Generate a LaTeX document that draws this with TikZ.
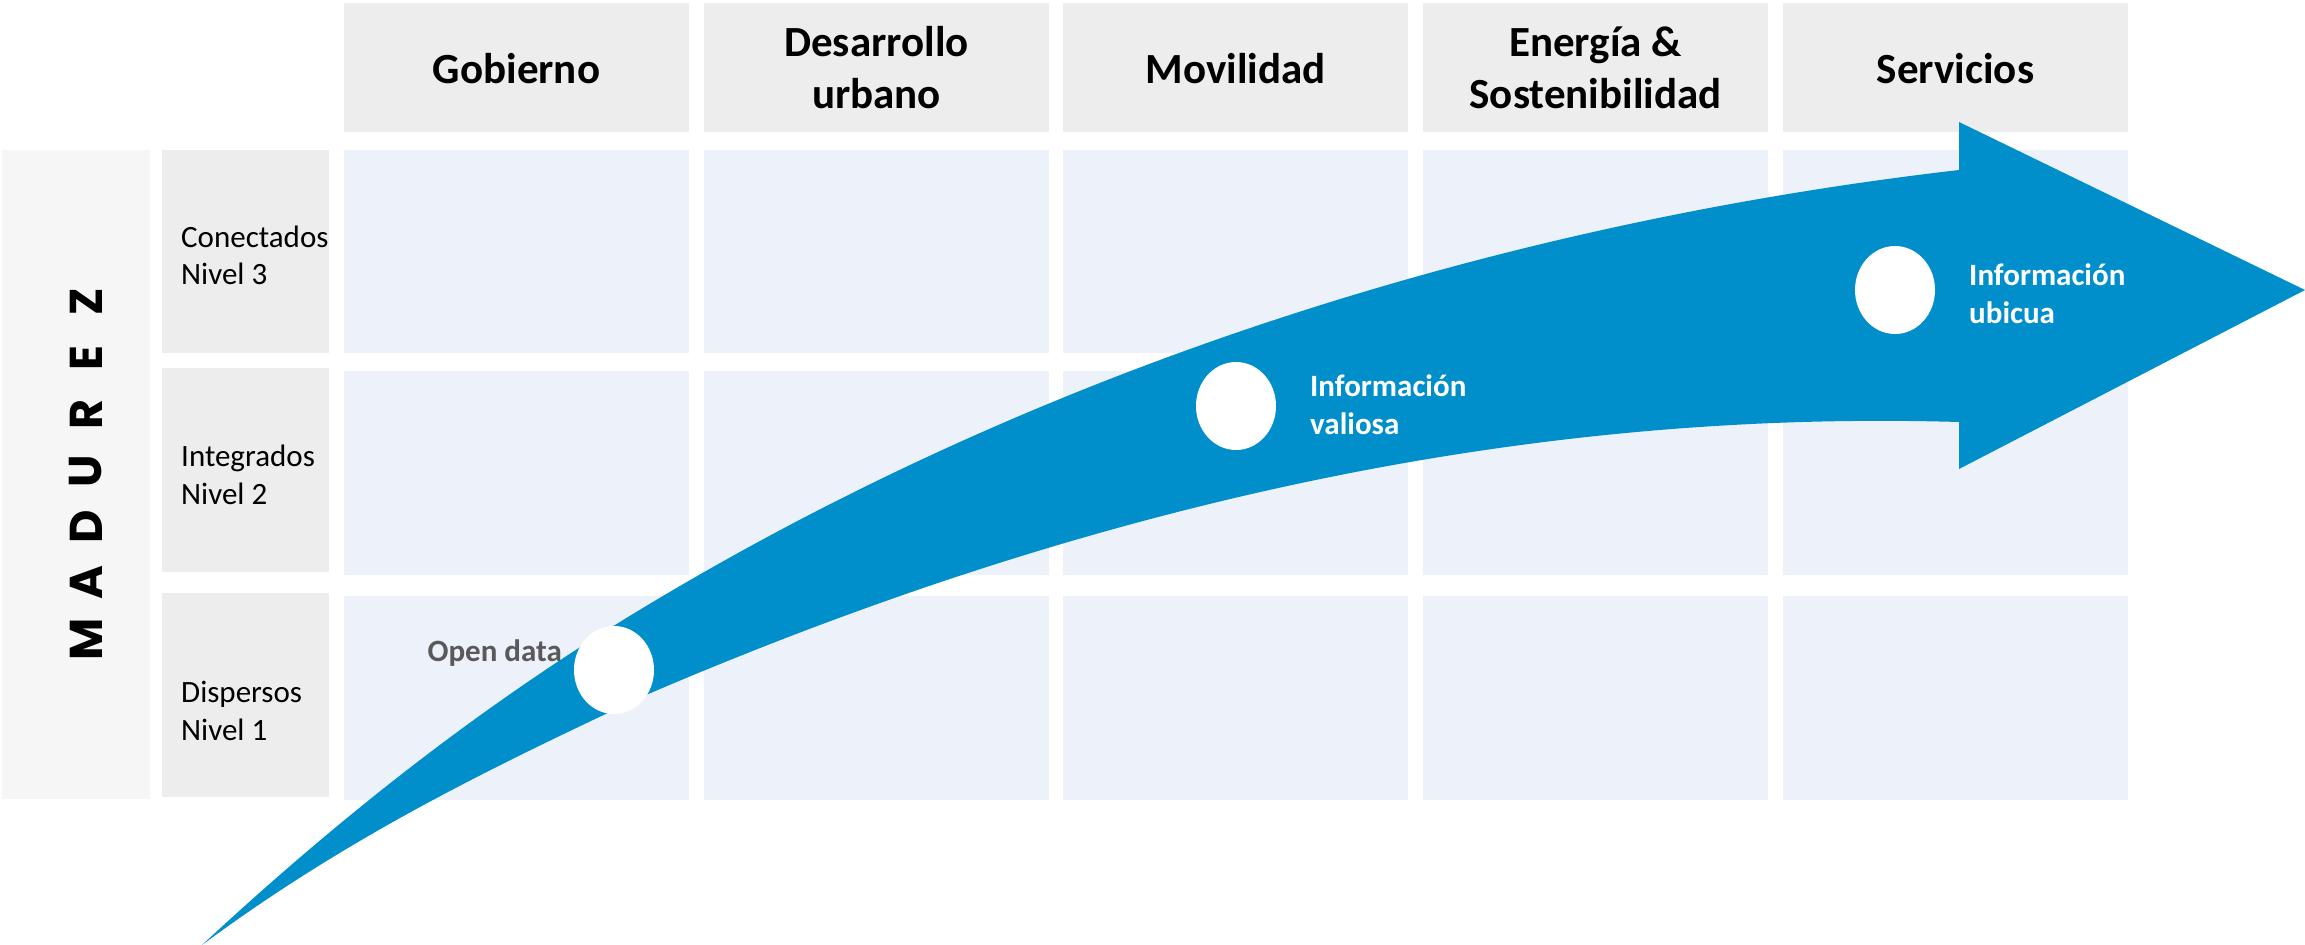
\documentclass[tikz,border=0pt]{standalone}
\usepackage{fontspec}
\setmainfont{Carlito}
\newfontfamily\madfont{Poppins}
\usetikzlibrary{shapes.geometric}
\definecolor{hdrgray}{HTML}{EDEDED}
\definecolor{madgray}{HTML}{F6F6F6}
\definecolor{cellblue}{HTML}{EDF1F9}
\definecolor{arrowblue}{HTML}{008FCB}
\definecolor{odgray}{HTML}{595959}
\begin{document}
\begin{tikzpicture}[x=1pt,y=-1pt,
  box/.style={fill=#1, draw=none, inner sep=0, outer sep=0, anchor=north west},
  hdrtext/.style={font=\fontsize{43}{52}\selectfont\bfseries, anchor=base, inner sep=0},
  rowtext/.style={font=\fontsize{31}{37}\selectfont, anchor=base west, inner sep=0},
  infotext/.style={font=\fontsize{31}{38}\selectfont\bfseries, text=white, anchor=base west, inner sep=0},
  madletter/.style={font={\madfont\fontsize{46}{50}\selectfont\bfseries}, rotate=90, inner sep=0},
  dot/.style={ellipse, fill=white, draw=none, minimum width=80pt, minimum height=88pt, inner sep=0}
]
\fill[white] (0,0) rectangle (2305,945);
\useasboundingbox (0,0) rectangle (2305,945);

% column headers and cells
\foreach \c [count=\i] in {344,704,1063,1423,1783} {
  \node[box=hdrgray, minimum width=345pt, minimum height=129pt] (h\i) at (\c,3) {};
  \node[box=cellblue, minimum width=345pt, minimum height=203pt] (ca\i) at (\c,150) {};
  \node[box=cellblue, minimum width=345pt, minimum height=204pt] (cb\i) at (\c,371) {};
  \node[box=cellblue, minimum width=345pt, minimum height=204pt] (cc\i) at (\c,596) {};
}
% maturity column
\node[box=madgray, minimum width=148pt, minimum height=649pt] (mad) at (2,150) {};
\node[box=hdrgray, minimum width=167pt, minimum height=203pt] (r3) at (162,150) {};
\node[box=hdrgray, minimum width=167pt, minimum height=204pt] (r2) at (162,368) {};
\node[box=hdrgray, minimum width=167pt, minimum height=204pt] (r1) at (162,593) {};

\foreach \l/\yy [count=\k] in {M/639,A/583,D/527,U/471,R/414,E/358,Z/302}
  \node[madletter] (ml\k) at (86,\yy) {\l};

% header texts
\node[hdrtext] (t1) at (516.5,83) {Gobierno};
\node[hdrtext] (t2a) at (876.5,56) {Desarrollo};
\node[hdrtext] (t2b) at (876.5,108) {urbano};
\node[hdrtext] (t3) at (1235.5,83) {Movilidad};
\node[hdrtext] (t4a) at (1595.5,56) {Energía \&};
\node[hdrtext] (t4b) at (1595.5,108) {Sostenibilidad};
\node[hdrtext] (t5) at (1955.5,83) {Servicios};

% row labels
\node[rowtext] (l3a) at (181,247) {Conectados};
\node[rowtext] (l3b) at (181,284) {Nivel 3};
\node[rowtext] (l2a) at (181,466.5) {Integrados};
\node[rowtext] (l2b) at (181,504) {Nivel 2};
\node[rowtext] (l1a) at (181,702.5) {Dispersos};
\node[rowtext] (l1b) at (181,740) {Nivel 1};

% big arrow
\fill[arrowblue] (202,945) .. controls (342,815) and (475,712) .. (615,625)
  .. controls (1035,365) and (1509,222) .. (1959,170)
  -- (1959,122) -- (2305,290) -- (1959,469) -- (1959,422)
  .. controls (1519,409) and (1086,506) .. (646,695)
  .. controls (496,765.5) and (352,834) .. (202,945) -- cycle;

% milestones
\node[dot] (d1) at (614,670) {};
\node[dot] (d2) at (1236,406) {};
\node[dot] (d3) at (1895,290) {};

\node[font=\fontsize{31}{38}\selectfont\bfseries, text=odgray, anchor=base east, inner sep=0] (od) at (562,661) {Open data};
\node[infotext] (v1) at (1310,396) {Información};
\node[infotext] (v2) at (1310,434) {valiosa};
\node[infotext] (u1) at (1969,285) {Información};
\node[infotext] (u2) at (1969,323) {ubicua};
\end{tikzpicture}
\end{document}
